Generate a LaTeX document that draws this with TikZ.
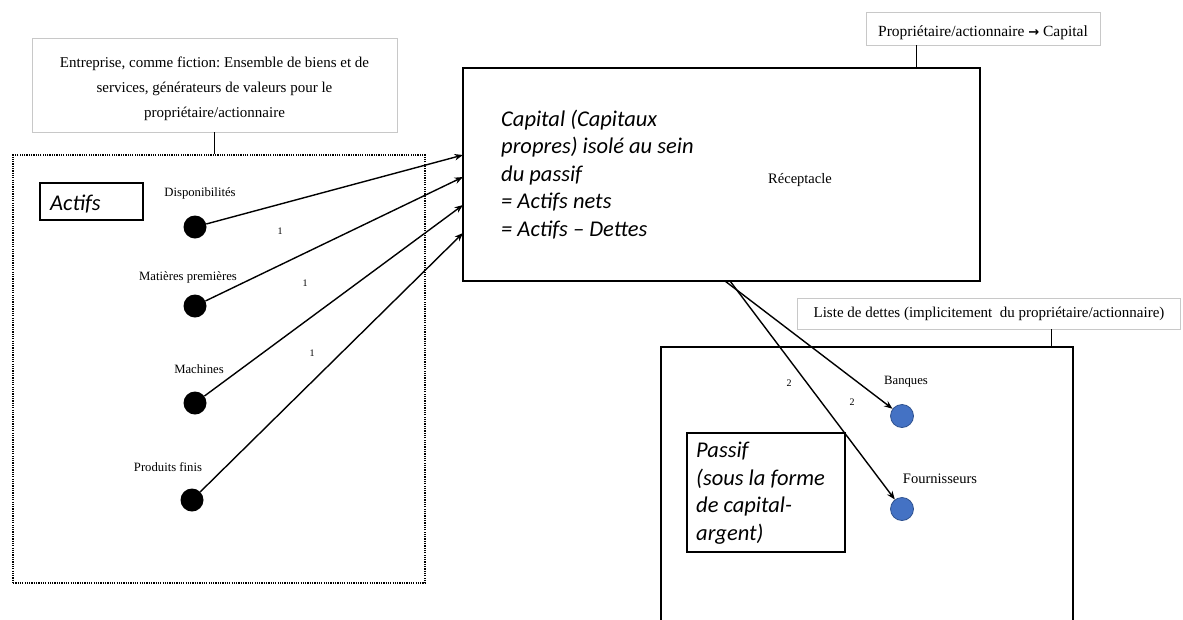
\documentclass[tikz,border=0pt]{standalone}
\usepackage{fontspec}
\setmainfont{Liberation Serif}
\newfontfamily\cali{Carlito}
\newfontfamily\djv{DejaVu Sans}
\usetikzlibrary{arrows.meta}
\definecolor{dotblue}{RGB}{68,114,196}
\definecolor{dotblueline}{RGB}{47,82,143}
\definecolor{lightframe}{RGB}{200,200,200}
\frenchspacing
\tikzset{
  lightbox/.style={draw=lightframe, line width=0.8pt, inner sep=2pt, align=center},
  bigbox/.style={draw, line width=2.8pt},
  titlebox/.style={draw, line width=1.1pt},
  itxt/.style={font=\cali\itshape\fontsize{22.5}{27.5}\selectfont, align=left, inner sep=0pt},
  blackdot/.style={circle, fill=black, minimum size=23pt, inner sep=0pt},
  bluedot/.style={circle, fill=dotblue, draw=dotblueline, line width=0.8pt, minimum size=23pt, inner sep=0pt},
  lbl/.style={font=\fontsize{12.7}{14}\selectfont, inner sep=0pt},
  num/.style={font=\fontsize{10}{12}\selectfont, inner sep=0pt},
  conn/.style={line width=0.8pt},
  arr/.style={line width=1.4pt, -{Stealth[length=8.5pt,width=6.5pt]}},
}
\begin{document}
\begin{tikzpicture}[x=1pt,y=-1pt]
\useasboundingbox (0,0) rectangle (1183,619);
\clip (0,0) rectangle (1183,619);
% top-left text box
\node[lightbox, minimum width=365pt, minimum height=94pt] (ent) at (214.5,85) {};
\node[align=center, inner sep=0pt, font=\fontsize{15}{25}\selectfont] (enttx) at (214.5,89)
  {Entreprise, comme fiction: Ensemble de biens et de\\services, générateurs de valeurs pour le\\propriétaire/actionnaire};
% dotted actifs frame
\node[draw, line width=1.5pt, dash pattern=on 1.2pt off 1.1pt, minimum width=412pt, minimum height=428pt, inner sep=0pt] (act) at (219,369) {};
\draw[conn] (ent.south) -- (ent.south |- act.north);
% Actifs title
\node[titlebox, minimum width=103pt, minimum height=37pt, inner sep=0pt] (actt) at (91.5,201.5) {};
\node[itxt, anchor=west] (acttx) at (50,204) {Actifs};
% dots and labels
\node[lbl] (l1) at (200,193) {Disponibilités};
\node[blackdot] (d1) at (195,227) {};
\node[lbl] (l2) at (188,277) {Matières premières};
\node[blackdot] (d2) at (195,306) {};
\node[lbl] (l3) at (199,369) {Machines};
\node[blackdot] (d3) at (195,403) {};
\node[lbl] (l4) at (168,467) {Produits finis};
\node[blackdot] (d4) at (192,500) {};
\node[num] (n1) at (280,231) {1};
\node[num] (n2) at (305,283) {1};
\node[num] (n3) at (312,353) {1};
% Capital box
\node[bigbox, minimum width=517pt, minimum height=213pt, inner sep=0pt] (cap) at (721.5,174.5) {};
\node[itxt, anchor=north west] (captx) at (501,109.5) {Capital (Capitaux\\propres) isolé au sein\\du passif\\= Actifs nets\\= Actifs – Dettes};
\node[font=\fontsize{14.5}{16}\selectfont, inner sep=0pt] (rec) at (800,180) {Réceptacle};
% Proprietaire box
\node[lightbox, minimum width=234pt, minimum height=33pt, text height=16pt, text depth=1pt, font=\fontsize{15.5}{17}\selectfont] (prop) at (983,28.5) {Propriétaire/actionnaire {\djv\bfseries\fontsize{13}{14}\selectfont →} Capital};
\coordinate (pc) at (916,45);
\draw[conn] (pc |- prop.south) -- (pc |- cap.north);
% arrows into capital
\coordinate (e1) at (463,155);
\coordinate (e2) at (463,177);
\coordinate (e3) at (463,205);
\coordinate (e4) at (463,233);
\draw[arr] (d1) -- (e1);
\draw[arr] (d2) -- (e2);
\draw[arr] (d3) -- (e3);
\draw[arr] (d4) -- (e4);
% Liste de dettes box
\node[lightbox, minimum width=383pt, minimum height=31pt, font=\fontsize{15}{17}\selectfont] (liste) at (989,313.5) {Liste de dettes (implicitement\ \ du propriétaire/actionnaire)};
% Passif big box (runs past bottom)
\draw[line width=2.5pt] (661,347) rectangle (1073,640);
\coordinate (pasTop) at (1051,347);
\draw[conn] (pasTop |- liste.south) -- (pasTop);
% Passif title
\node[titlebox, minimum width=158pt, minimum height=119pt, inner sep=0pt] (past) at (766,492.5) {};
\node[itxt, anchor=north west] (pastx) at (696,442) {Passif\\(sous la forme\\de capital-\\argent)};
% blue dots
\node[lbl] (lb) at (906,382) {Banques};
\node[bluedot] (b1) at (902,416) {};
\node[lbl, font=\fontsize{14.5}{16}\selectfont] (lf) at (940,479) {Fournisseurs};
\node[bluedot] (b2) at (902,509) {};
\node[num] (m1) at (789,383) {2};
\node[num] (m2) at (852,402) {2};
\coordinate (s1) at (725,281);
\coordinate (s2) at (730,281);
\draw[arr] (s1) -- (b1);
\draw[arr] (s2) -- (b2);
\end{tikzpicture}
\end{document}
